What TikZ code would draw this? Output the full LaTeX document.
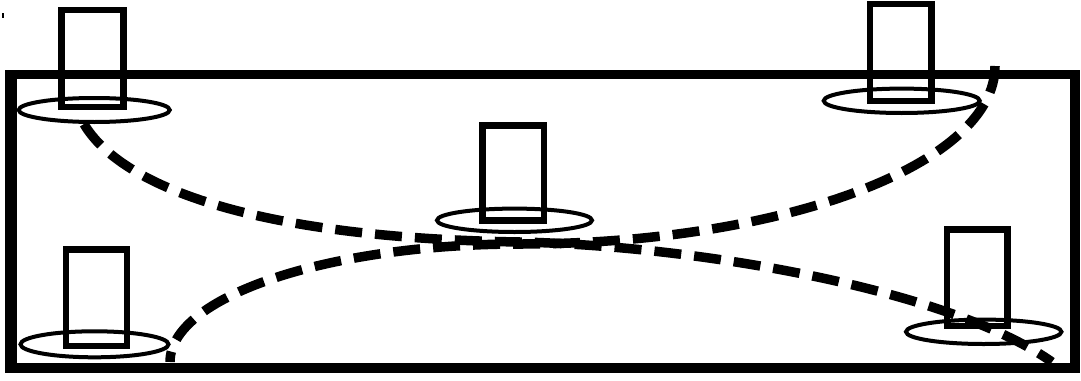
\documentclass[tikz,border=0pt]{standalone}
\begin{document}
\begin{tikzpicture}[x=1pt,y=-1pt,
  frameline/.style={line width=9.5pt, line join=miter},
  postbox/.style={line width=6.5pt},
  postbase/.style={line width=4pt},
  route/.style={line width=9.5pt, dash pattern=on 27pt off 13pt}]
\useasboundingbox (0,0) rectangle (1081,380);
% frame
\draw[frameline] (10,74.5) rectangle (1075,368);
\draw[line width=12pt] (10.5,70) -- (10.5,372);
% small mark
\draw[line width=1.5pt] (3,13) -- (3,18);
% posts: rectangles and base ellipses
\draw[postbox] (61.7,10) rectangle (123.3,107);
\draw[postbase] (94.2,110) ellipse [x radius=75.5pt, y radius=12pt];
\draw[postbox] (870,4.2) rectangle (931.3,101);
\draw[postbase] (901.7,100.8) ellipse [x radius=78pt, y radius=12.2pt];
\draw[postbox] (482.7,125.5) rectangle (544.2,220.7);
\draw[postbase] (514.5,220.3) ellipse [x radius=77.5pt, y radius=11.7pt];
\draw[postbox] (66,249.7) rectangle (127,346);
\draw[postbase] (94.5,344.3) ellipse [x radius=74pt, y radius=13pt];
\draw[postbox] (947,229.3) rectangle (1007.3,326);
\draw[postbase] (983.7,331.8) ellipse [x radius=77.7pt, y radius=12.2pt];
% route coordinates
\coordinate (a0) at (84,124);
\coordinate (mid) at (520,242);
\coordinate (a1) at (1052,362);
\coordinate (b0) at (995,66);
\coordinate (midb) at (520,244);
\coordinate (b1) at (170,362);
% dashed routes
\draw[route] (a0) .. controls (120,185) and (250,238) .. (mid)
  .. controls (700,246) and (950,290) .. (a1);
\draw[route] (b0) .. controls (995,165) and (782,244) .. (midb)
  .. controls (327,244) and (170,297) .. (b1);
\end{tikzpicture}
\end{document}
